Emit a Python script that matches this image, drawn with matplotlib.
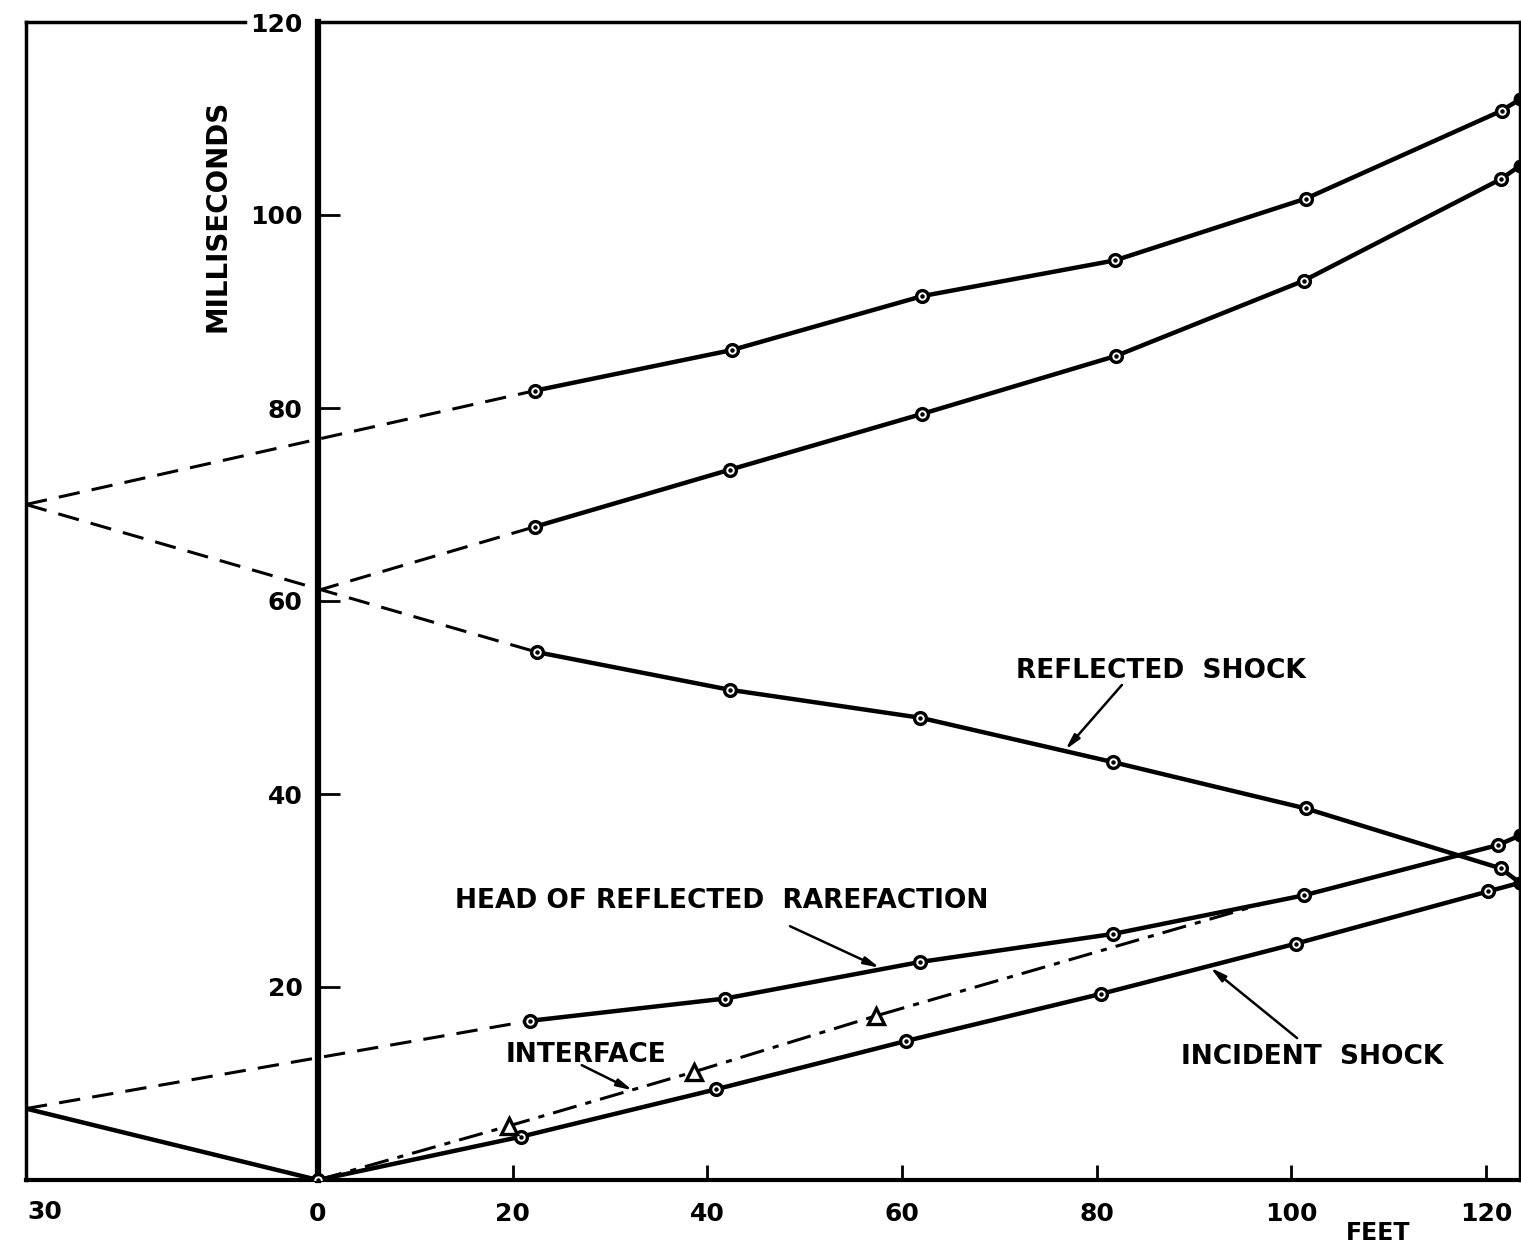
import matplotlib
matplotlib.use('Agg')
import matplotlib.pyplot as plt

# Measured points (feet, milliseconds)
feet_top = [22.3, 42.5, 62.1, 81.9, 101.5, 121.6]
ms_top = [81.8, 86.0, 91.6, 95.3, 101.7, 110.8]

feet_second = [22.3, 42.3, 62.1, 82.0, 101.3, 121.5]
ms_second = [67.7, 73.6, 79.4, 85.4, 93.2, 103.7]

feet_reflected = [22.5, 42.3, 61.9, 81.7, 101.5, 121.5]
ms_reflected = [54.7, 50.8, 47.9, 43.3, 38.5, 32.3]

feet_rarefaction = [21.8, 41.8, 61.9, 81.7, 101.3, 121.2]
ms_rarefaction = [16.5, 18.8, 22.6, 25.5, 29.5, 34.7]

feet_incident = [20.9, 40.9, 60.4, 80.5, 100.5, 120.2]
ms_incident = [4.5, 9.4, 14.4, 19.3, 24.5, 29.9]

feet_interface = [19.6, 38.6, 57.3]
ms_interface = [5.6, 11.2, 17.0]

# where the curves leave the chart on the right (x = 123.5 ft)
x_edge = 123.5
edge_top, edge_second, edge_reflected, edge_rarefaction, edge_incident = 112.0, 105.1, 30.8, 35.7, 30.8

# extrapolated (dashed) starting points
start_top = (-30, 70.0)
start_second = (0, 61.1)
start_reflected = (-30, 70.0)
start_rarefaction = (-30, 7.4)
origin = (0, 0)
interface_end = (97, 28.6)

xtick_vals = [0, 20, 40, 60, 80, 100, 120]
ytick_vals = [20, 40, 60, 80, 100, 120]

plt.rcParams['font.family'] = 'DejaVu Sans'
plt.rcParams['font.weight'] = 'bold'

fig = plt.figure(figsize=(15.21, 12.45), dpi=100)
ax = fig.add_axes([26 / 1521, 65 / 1245, (1520 - 26) / 1521, (1180 - 22) / 1245])
ax.set_xlim(-30, x_edge)
ax.set_ylim(0, 120)

solid = dict(color='black', lw=3.2, solid_capstyle='round', zorder=3)
dashed = dict(color='black', lw=2.2, linestyle=(0, (7, 4)), zorder=2)
circ = dict(ls='none', marker='o', ms=8.5, mfc='white', mec='black', mew=2.4, zorder=5)
dot = dict(ls='none', marker='o', ms=2.2, color='black', zorder=6)


def curve(xs, ys, edge):
    ax.plot(xs + [x_edge], ys + [edge], **solid)
    ax.plot(xs, ys, **circ)
    ax.plot(xs, ys, **dot)
    ax.plot([x_edge], [edge], 'o', ms=9, color='black', zorder=4)


curve(feet_top, ms_top, edge_top)
curve(feet_second, ms_second, edge_second)
curve(feet_reflected, ms_reflected, edge_reflected)
curve(feet_rarefaction, ms_rarefaction, edge_rarefaction)
curve([origin[0]] + feet_incident, [origin[1]] + ms_incident, edge_incident)

# dashed extrapolations
ax.plot([start_top[0], feet_top[0]], [start_top[1], ms_top[0]], **dashed)
ax.plot([start_second[0], feet_second[0]], [start_second[1], ms_second[0]], **dashed)
ax.plot([start_reflected[0], feet_reflected[0]], [start_reflected[1], ms_reflected[0]], **dashed)
ax.plot([start_rarefaction[0], feet_rarefaction[0]], [start_rarefaction[1], ms_rarefaction[0]], **dashed)
ax.plot([start_rarefaction[0], origin[0]], [start_rarefaction[1], origin[1]], **solid)

# interface (dash-dot) with triangles
ax.plot([origin[0]] + feet_interface + [interface_end[0]],
        [origin[1]] + ms_interface + [interface_end[1]],
        color='black', lw=2.2, linestyle=(0, (8, 3, 2, 3)), zorder=2)
ax.plot(feet_interface, ms_interface, ls='none', marker='^', ms=11,
        mfc='white', mec='black', mew=2.4, zorder=5)

# frame
ax.spines['top'].set_visible(False)
ax.spines['left'].set_position(('data', 0))
ax.spines['left'].set_linewidth(4.5)
ax.spines['bottom'].set_linewidth(3)
ax.spines['right'].set_linewidth(2.5)
ax.plot([-30, -30], [0, 120], color='black', lw=2.5, clip_on=False)
ax.plot([-30, -7.5], [120, 120], color='black', lw=2.5, clip_on=False)
ax.plot([0, x_edge], [120, 120], color='black', lw=2.5, clip_on=False)

ax.set_yticks(ytick_vals)
ax.set_yticklabels([str(v) for v in ytick_vals])
ax.set_xticks(xtick_vals)
ax.set_xticklabels([str(v) for v in xtick_vals])
ax.tick_params(axis='y', direction='in', length=16, width=2, pad=11, labelsize=18)
ax.tick_params(axis='x', direction='in', length=11, width=2, pad=16, labelsize=18)
ax.text(-28.1, -3.3, '30', ha='center', va='center', fontsize=18, clip_on=False)
ax.text(108.9, -5.5, 'FEET', ha='center', va='center', fontsize=17, clip_on=False)
ax.text(-10.3, 99.9, 'MILLISECONDS', rotation=90, ha='center', va='center', fontsize=20)

# labels with arrows
lab = dict(ha='center', va='center', fontsize=19)
arrow = dict(arrowstyle='-|>,head_length=0.9,head_width=0.22', color='black', lw=1.8,
             shrinkA=0, shrinkB=0)
ax.text(86.6, 52.7, 'REFLECTED  SHOCK', **lab)
ax.annotate('', xy=(76.8, 44.6), xytext=(82.6, 51.3), arrowprops=arrow)
ax.text(41.5, 28.9, 'HEAD OF REFLECTED  RAREFACTION', **lab)
ax.annotate('', xy=(57.7, 22.0), xytext=(48.5, 26.3), arrowprops=arrow)
ax.text(27.5, 13.0, 'INTERFACE', **lab)
ax.annotate('', xy=(32.3, 9.3), xytext=(27.1, 11.9), arrowprops=arrow)
ax.text(102.1, 12.7, 'INCIDENT  SHOCK', **lab)
ax.annotate('', xy=(91.7, 22.0), xytext=(100.6, 14.7), arrowprops=arrow)

fig.savefig('out.png', dpi=100)
